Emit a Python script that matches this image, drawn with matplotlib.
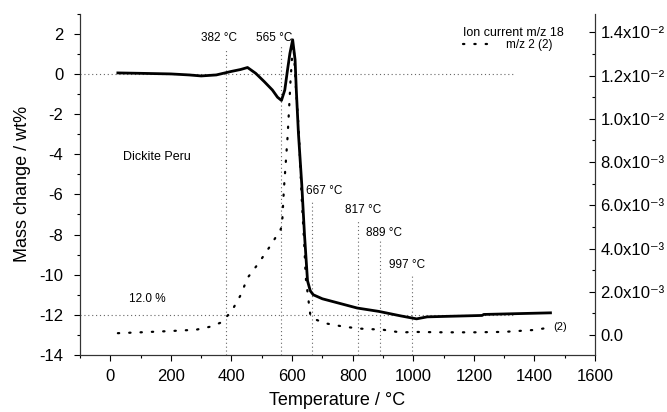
import matplotlib
matplotlib.use("Agg")
import matplotlib.pyplot as plt
from matplotlib.ticker import FixedLocator, FixedFormatter, MultipleLocator

plt.rcParams['font.family'] = ['Liberation Sans', 'DejaVu Sans']
plt.rcParams['axes.unicode_minus'] = False

# TG curve: mass change (wt%) vs temperature (degC)
tg_temp = [25, 100, 200, 260, 300, 350, 398, 430, 453, 480, 508, 535, 552, 565,
           576, 585, 593, 602, 610, 614, 621, 632, 641, 651, 660, 670, 700, 760,
           815, 887, 958, 1011, 1046, 1227, 1233, 1453]
tg_mass = [0.05, 0.03, 0.0, -0.05, -0.1, -0.05, 0.12, 0.22, 0.32, 0.03, -0.38, -0.8, -1.16, -1.32,
           -0.8, 0.2, 1.03, 1.7, 0.7, -0.8, -2.95, -5.5, -8.0, -10.3, -10.8, -11.0, -11.2, -11.44,
           -11.66, -11.83, -12.05, -12.2, -12.1, -12.03, -11.98, -11.9]

# MS ion current (A), right axis
ms_temp = [25, 100, 200, 283, 330, 365, 384, 403, 431, 453, 490, 530, 563, 568, 573,
           579, 585, 590, 595, 601, 605, 612, 622, 632, 641, 645, 656, 661, 680, 709,
           771, 826, 900, 960, 1000, 1100, 1200, 1300, 1400, 1436]
ms_curr = [0.08, 0.12, 0.18, 0.24, 0.38, 0.57, 0.84, 1.16, 1.86, 2.64, 3.33, 4.16, 4.9, 5.36, 6.74,
           7.93, 9.13, 10.42, 11.8, 13.05, 13.42, 11.6, 9.5, 6.28, 3.98, 2.68, 1.4, 0.84, 0.7, 0.54,
           0.38, 0.29, 0.24, 0.11, 0.14, 0.12, 0.12, 0.14, 0.23, 0.31]
ms_curr = [v * 1e-3 for v in ms_curr]

# characteristic temperatures: (value, top of marker line in wt%, label x, label y)
peaks = [382, 565, 667, 817, 889, 997]
peak_top = [1.3, 1.45, -6.27, -7.3, -8.26, -10.0]
peak_lab_x = [300, 480, 645, 776, 843, 920]
peak_lab_y = [1.8, 1.8, -5.85, -6.77, -7.9, -9.54]

total_loss = 12.0

right_ticks = [0.0, 2e-3, 4e-3, 6e-3, 8e-3, 1.0e-2, 1.2e-2, 1.4e-2]
right_labels = ['0.0', '2.0x10⁻³', '4.0x10⁻³', '6.0x10⁻³', '8.0x10⁻³',
                '1.0x10⁻²', '1.2x10⁻²', '1.4x10⁻²']

W, H = 667, 412
fig = plt.figure(figsize=(W / 100, H / 100), dpi=100)
ax = fig.add_axes([80 / W, 1 - 355 / H, 515 / W, 341.3 / H])
ax2 = ax.twinx()

guide = dict(color='#666666', lw=0.8, ls=(0, (1, 2.5)))

# reference levels 0 and -12 wt%
ax.plot([-100, 1330], [0, 0], **guide)
ax.plot([-100, 1330], [-total_loss, -total_loss], **guide)

for t, top, lx, ly in zip(peaks, peak_top, peak_lab_x, peak_lab_y):
    ax.plot([t, t], [-14, top], **guide)
    ax.text(lx, ly, '%d °C' % t, fontsize=8.5, ha='left', va='center')

ax.plot(tg_temp, tg_mass, color='black', lw=2.0, zorder=5)

ax2.plot(ms_temp, ms_curr, color='black', lw=1.6, ls=(0, (0.6, 4.5)),
         dash_capstyle='round', label='m/z 2 (2)')

ax.text(42, -4.13, 'Dickite Peru', fontsize=9, va='center')
ax.text(62, -11.2, '%.1f %%' % total_loss, fontsize=8.5, va='center')
ax.text(1462, -12.6, '(2)', fontsize=8, va='center')

ax.set_xlim(-100, 1600)
ax.set_ylim(-14, 3)
ax2.set_ylim(-0.00093, 0.01487)

ax.xaxis.set_major_locator(MultipleLocator(200))
ax.xaxis.set_minor_locator(MultipleLocator(100))
ax.yaxis.set_major_locator(MultipleLocator(2))
ax.yaxis.set_minor_locator(MultipleLocator(1))
ax2.yaxis.set_major_locator(FixedLocator(right_ticks))
ax2.yaxis.set_major_formatter(FixedFormatter(right_labels))
ax2.yaxis.set_minor_locator(MultipleLocator(1e-3))

ax.tick_params(axis='both', which='major', direction='out', length=4, width=0.8,
               labelsize=12, pad=6)
ax.tick_params(axis='both', which='minor', direction='out', length=2.5, width=0.8)
ax.tick_params(axis='y', which='major', pad=8)
ax2.tick_params(axis='y', which='major', direction='in', length=4, width=0.8,
                labelsize=12, pad=4)
ax2.tick_params(axis='y', which='minor', direction='in', length=2.5, width=0.8)

for a in (ax, ax2):
    a.spines['top'].set_visible(False)
    for s in ('left', 'right', 'bottom'):
        a.spines[s].set_linewidth(0.8)
        a.spines[s].set_color('#333333')

ax.set_xlabel('Temperature / °C', fontsize=13, labelpad=6)
ax.set_ylabel('Mass change / wt%', fontsize=13, labelpad=6)

leg = ax2.legend(title='Ion current m/z 18', loc='upper left',
                 bbox_to_anchor=(463 / W, 1 - 27 / H), bbox_transform=fig.transFigure,
                 frameon=False, fontsize=8.5, title_fontsize=9, handlelength=2.8,
                 handletextpad=0.8, borderpad=0, borderaxespad=0, labelspacing=0)
leg._legend_box.align = 'left'

fig.savefig('out.png', dpi=100)
